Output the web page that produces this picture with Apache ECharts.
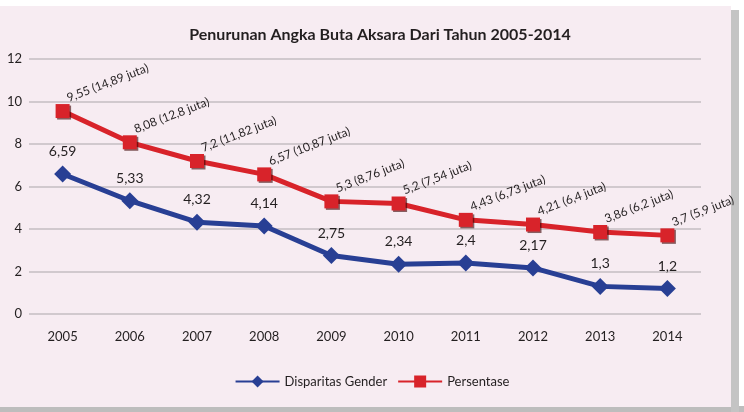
<!DOCTYPE html>
<html><head><meta charset="utf-8">
<script src="https://cdn.jsdelivr.net/npm/echarts@6/dist/echarts.min.js"></script>
<style>html,body{margin:0;padding:0;background:#fff}#c{width:744px;height:412px}</style>
</head><body><div id="c"></div>
<script>
const years = ['2005','2006','2007','2008','2009','2010','2011','2012','2013','2014'];
const disparitasGender = [6.59, 5.33, 4.32, 4.14, 2.75, 2.34, 2.4, 2.17, 1.3, 1.2];
const persentase = [9.55, 8.08, 7.2, 6.57, 5.3, 5.2, 4.43, 4.21, 3.86, 3.7];
const jutaLabels = ['14,89','12,8','11,82','10,87','8,76','7,54','6,73','6,4','6,2','5,9'];
const yTicks = [0, 2, 4, 6, 8, 10, 12];

const FONT = 'Lato, sans-serif';
const fmt = v => String(v).replace('.', ',');
const chart = echarts.init(document.getElementById('c'));
chart.setOption({
  animation: false,
  textStyle: { fontFamily: FONT },
  graphic: [
    { type: 'rect', z: -10, shape: { x: 0, y: 406, width: 744, height: 6 }, style: { fill: '#bdbdbd' } },
    { type: 'rect', z: -10, shape: { x: 731, y: 10, width: 8, height: 402 }, style: { fill: '#c4c4c4' } },
    { type: 'rect', z: -9, shape: { x: 0, y: 6, width: 731, height: 401 }, style: { fill: '#f7ecf2' } }
  ],
  title: {
    text: 'Penurunan Angka Buta Aksara Dari Tahun 2005-2014',
    left: 375, top: 22, textAlign: 'center',
    textStyle: { fontFamily: FONT, fontSize: 16, fontWeight: 'bold', color: '#231f20' }
  },
  legend: {
    bottom: 19, left: 'center', itemWidth: 44, itemHeight: 15, itemGap: 10,
    textStyle: { fontFamily: FONT, fontSize: 13, color: '#231f20' },
    data: ['Disparitas Gender', 'Persentase']
  },
  grid: { left: 29, right: 43, top: 59, bottom: 98 },
  xAxis: {
    type: 'category', data: years, boundaryGap: true,
    axisLine: { show: false }, axisTick: { show: false },
    axisLabel: { fontFamily: FONT, fontSize: 13, color: '#231f20', margin: 16 }
  },
  yAxis: {
    type: 'value', min: yTicks[0], max: yTicks[yTicks.length - 1], interval: 2,
    axisLine: { show: false }, axisTick: { show: false },
    axisLabel: { fontFamily: FONT, fontSize: 13, color: '#231f20', margin: 7 },
    splitLine: { lineStyle: { color: '#c4bec2', width: 1.5 } }
  },
  series: [
    {
      name: 'Disparitas Gender', type: 'line', data: disparitasGender,
      symbol: 'diamond', symbolSize: 17,
      lineStyle: { color: '#283f94', width: 5 },
      itemStyle: { color: '#283f94' },
      label: { show: true, position: 'top', distance: 7, fontFamily: FONT, fontSize: 14, color: '#231f20', formatter: p => fmt(p.value) }
    },
    {
      name: 'Persentase', type: 'line', data: persentase,
      symbol: 'rect', symbolSize: 14,
      lineStyle: { color: '#d8232a', width: 5 },
      itemStyle: { color: '#d8232a', shadowColor: 'rgba(60,0,0,0.6)', shadowOffsetX: 1.5, shadowOffsetY: 1.5 },
      label: {
        show: true, position: [14, 0], align: 'left', verticalAlign: 'bottom', rotate: 21,
        fontFamily: FONT, fontSize: 12, color: '#231f20',
        formatter: p => fmt(p.value) + ' (' + jutaLabels[p.dataIndex] + ' juta)'
      }
    }
  ]
});
</script></body></html>
